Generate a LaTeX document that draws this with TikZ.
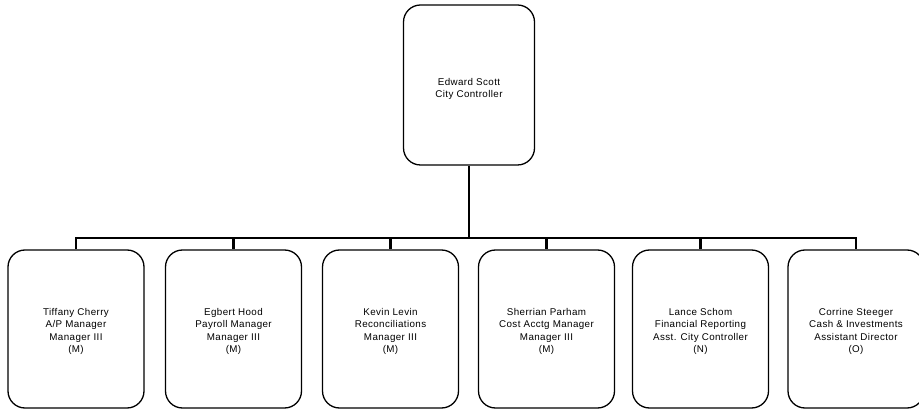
\documentclass[tikz,border=0pt]{standalone}
\usepackage{fontspec}
\setmainfont[LetterSpace=4]{Liberation Sans}
\begin{document}
\begin{tikzpicture}[x=1pt,y=-1pt,
  box/.style={draw=black, line width=1.3pt, rounded corners=17pt, minimum width=136pt, minimum height=158pt, inner sep=0pt},
  topbox/.style={box, minimum width=131pt, minimum height=160pt},
  txt/.style={inner sep=0pt, align=center, font=\fontsize{9.8}{12.3}\selectfont},
  link/.style={line width=2.2pt}]
\useasboundingbox (0,0) rectangle (919,411);
\node[topbox] (ceo) at (469,85) {};
\node[txt] (tceo) at ([yshift=-4]ceo.center) {Edward Scott\\City Controller};
\node[box] (b1) at (76,329) {};
\node[box] (b2) at (233.5,329) {};
\node[box] (b3) at (390.5,329) {};
\node[box] (b4) at (546.5,329) {};
\node[box] (b5) at (700.5,329) {};
\node[box] (b6) at (856,329) {};
\node[txt] (t1) at ([yshift=-2.5]b1.center) {Tiffany Cherry\\A/P Manager\\Manager III\\(M)};
\node[txt] (t2) at ([yshift=-2.5]b2.center) {Egbert Hood\\Payroll Manager\\Manager III\\(M)};
\node[txt] (t3) at ([yshift=-2.5]b3.center) {Kevin Levin\\Reconciliations\\Manager III\\(M)};
\node[txt] (t4) at ([yshift=-2.5]b4.center) {Sherrian Parham\\Cost Acctg Manager\\Manager III\\(M)};
\node[txt] (t5) at ([yshift=-2.5]b5.center) {Lance Schom\\Financial Reporting\\Asst. City Controller\\(N)};
\node[txt] (t6) at ([yshift=-2.5]b6.center) {Corrine Steeger\\Cash \& Investments\\Assistant Director\\(O)};
\coordinate (bus) at (469,238);
\draw[link] (ceo.south) -- (bus);
\draw[link] (b1.north) -- (b1.north |- bus) -- (b6.north |- bus) -- (b6.north);
\foreach \n in {b2,b3,b4,b5} \draw[link] (\n.north |- bus) -- (\n.north);
\end{tikzpicture}
\end{document}
